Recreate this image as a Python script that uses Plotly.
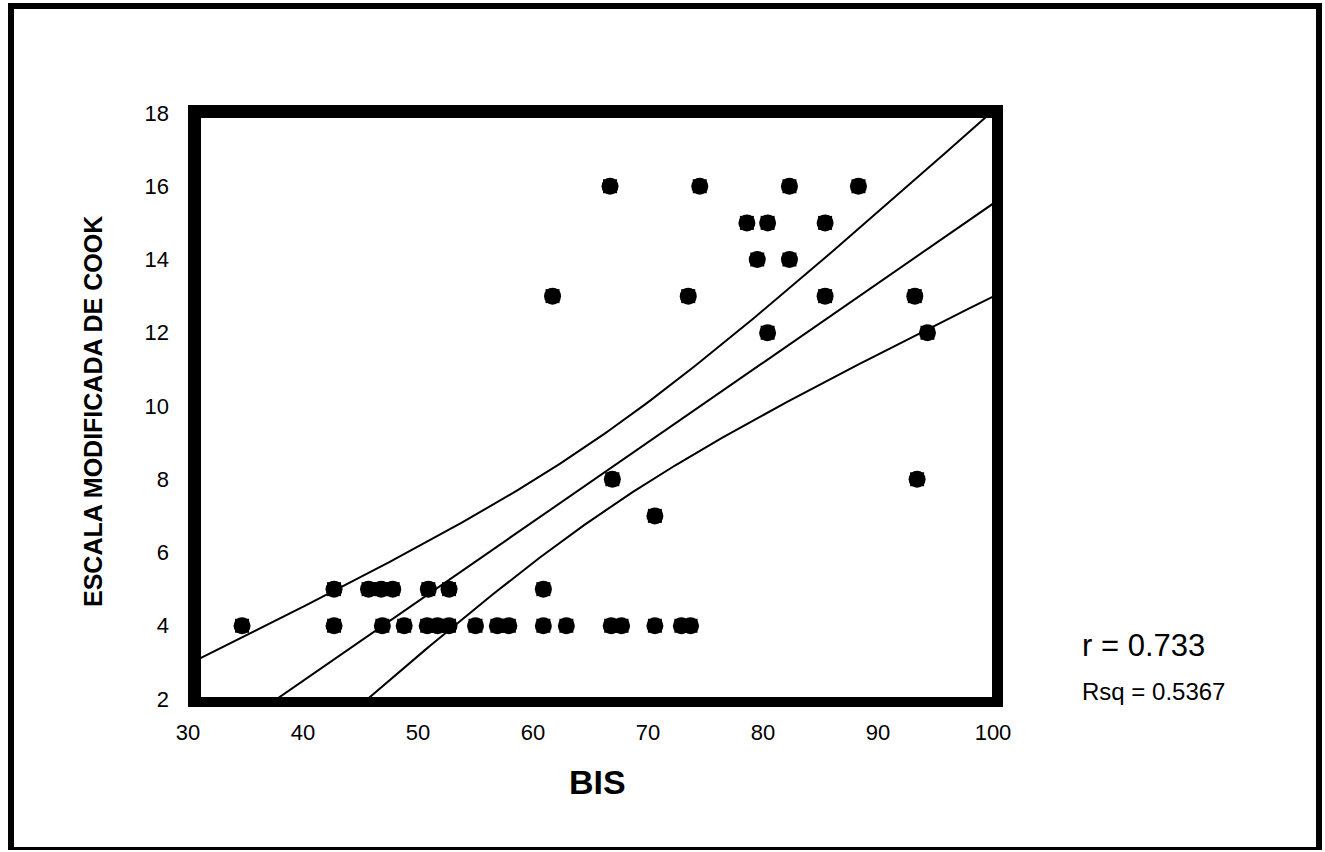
import numpy as np
import plotly.graph_objects as go

# ---- data (BIS vs modified Cook scale) ----
bis_16 = [66.7, 74.5, 82.3, 88.3]
bis_15 = [78.6, 80.4, 85.4]
bis_14 = [79.5, 82.3]
bis_13 = [61.7, 73.5, 85.4, 93.2]
bis_12 = [80.4, 94.3]
bis_8 = [66.9, 93.4]
bis_7 = [70.6]
bis_5 = [42.7, 45.7, 46.8, 47.8, 50.9, 52.7, 60.9]
bis_4 = [34.7, 42.7, 46.9, 48.8, 50.8, 51.7, 52.7, 55.0, 56.9, 57.9,
         60.9, 62.9, 66.8, 67.7, 70.6, 72.9, 73.7]

groups = [(16, bis_16), (15, bis_15), (14, bis_14), (13, bis_13), (12, bis_12),
          (8, bis_8), (7, bis_7), (5, bis_5), (4, bis_4)]
bis = [b for _, lst in groups for b in lst]
cook = [c for c, lst in groups for _ in lst]

x_ticks = [30, 40, 50, 60, 70, 80, 90, 100]
y_ticks = [2, 4, 6, 8, 10, 12, 14, 16, 18]
r_text = "r = 0.733"
rsq_text = "Rsq = 0.5367"
T_CRIT = 2.021  # t(0.975, n-2)

# ---- linear fit with 95% confidence band for the mean ----
x = np.array(bis, dtype=float)
y = np.array(cook, dtype=float)
n = len(x)
slope, intercept = np.polyfit(x, y, 1)
resid = y - (intercept + slope * x)
s = np.sqrt(np.sum(resid ** 2) / (n - 2))
sxx = np.sum((x - x.mean()) ** 2)
xs = np.linspace(x_ticks[0], x_ticks[-1], 200)
fit = intercept + slope * xs
half = T_CRIT * s * np.sqrt(1.0 / n + (xs - x.mean()) ** 2 / sxx)

FONT = "Liberation Sans, Arial, sans-serif"

fig = go.Figure()
# rounded-square markers: a square plus a circle drawn at the same data points
fig.add_trace(go.Scatter(x=bis, y=cook, mode="markers",
                         marker=dict(symbol="square", size=14, color="black", line=dict(width=0)),
                         showlegend=False))
fig.add_trace(go.Scatter(x=bis, y=cook, mode="markers",
                         marker=dict(symbol="circle", size=17, color="black", line=dict(width=0)),
                         showlegend=False, hoverinfo="skip"))
for yy in (fit + half, fit, fit - half):
    fig.add_trace(go.Scatter(x=xs, y=yy, mode="lines",
                             line=dict(color="black", width=2),
                             showlegend=False, hoverinfo="skip"))

# geometry (pixels)
W, H = 1325, 852
L, R, T, B = 188, 993, 113, 699
pw, ph = R - L, B - T


def px(v):
    return (v - L) / pw


def py(v):
    return (B - v) / ph


shapes = []
# thick frame around plot area
frame = [(188, 105, 201, 707), (188, 105, 1003, 118), (992, 105, 1003, 707), (188, 697, 1003, 707)]
for x0, y0, x1, y1 in frame:
    shapes.append(dict(type="rect", xref="paper", yref="paper",
                       x0=px(x0), x1=px(x1), y0=py(y1), y1=py(y0),
                       fillcolor="black", line=dict(width=0), layer="above"))
# outer border of the whole picture
border = [(8, 3, 14, 849), (8, 3, 1322, 9), (1316, 3, 1322, 849), (8, 847, 1322, 850)]
for x0, y0, x1, y1 in border:
    shapes.append(dict(type="rect", xref="paper", yref="paper",
                       x0=px(x0), x1=px(x1), y0=py(y1), y1=py(y0),
                       fillcolor="black", line=dict(width=0), layer="above"))

annotations = [
    dict(text="<b>ESCALA MODIFICADA DE COOK</b>", xref="paper", yref="paper",
         x=px(93), y=py(412), textangle=-90, showarrow=False,
         font=dict(family=FONT, size=25, color="black"), xanchor="center", yanchor="middle"),
    dict(text="<b>BIS</b>", xref="paper", yref="paper", x=px(597), y=py(782),
         showarrow=False, font=dict(family=FONT, size=34, color="black"),
         xanchor="center", yanchor="middle"),
    dict(text=r_text, xref="paper", yref="paper", x=px(1143), y=py(645),
         showarrow=False, font=dict(family=FONT, size=31, color="black"),
         xanchor="center", yanchor="middle"),
    dict(text=rsq_text, xref="paper", yref="paper", x=px(1153), y=py(691),
         showarrow=False, font=dict(family=FONT, size=24, color="black"),
         xanchor="center", yanchor="middle"),
]

fig.update_layout(
    width=W, height=H,
    margin=dict(l=L, r=W - R, t=T, b=H - B, pad=0),
    paper_bgcolor="white", plot_bgcolor="white",
    shapes=shapes, annotations=annotations,
    font=dict(family=FONT, color="black"),
)
fig.update_xaxes(range=[30, 100], tickvals=x_ticks, ticktext=[str(v) for v in x_ticks],
                 showgrid=False, zeroline=False, showline=False, ticks="",
                 tickfont=dict(family=FONT, size=22, color="black"), ticklabelstandoff=18)
fig.update_yaxes(range=[2, 18], tickvals=y_ticks, ticktext=[str(v) for v in y_ticks],
                 showgrid=False, zeroline=False, showline=False, ticks="",
                 tickfont=dict(family=FONT, size=22, color="black"), ticklabelstandoff=18)

fig.write_html("out.html", config={"displayModeBar": False},
               post_script="document.body.style.margin='0px';document.body.style.overflow='hidden';")
